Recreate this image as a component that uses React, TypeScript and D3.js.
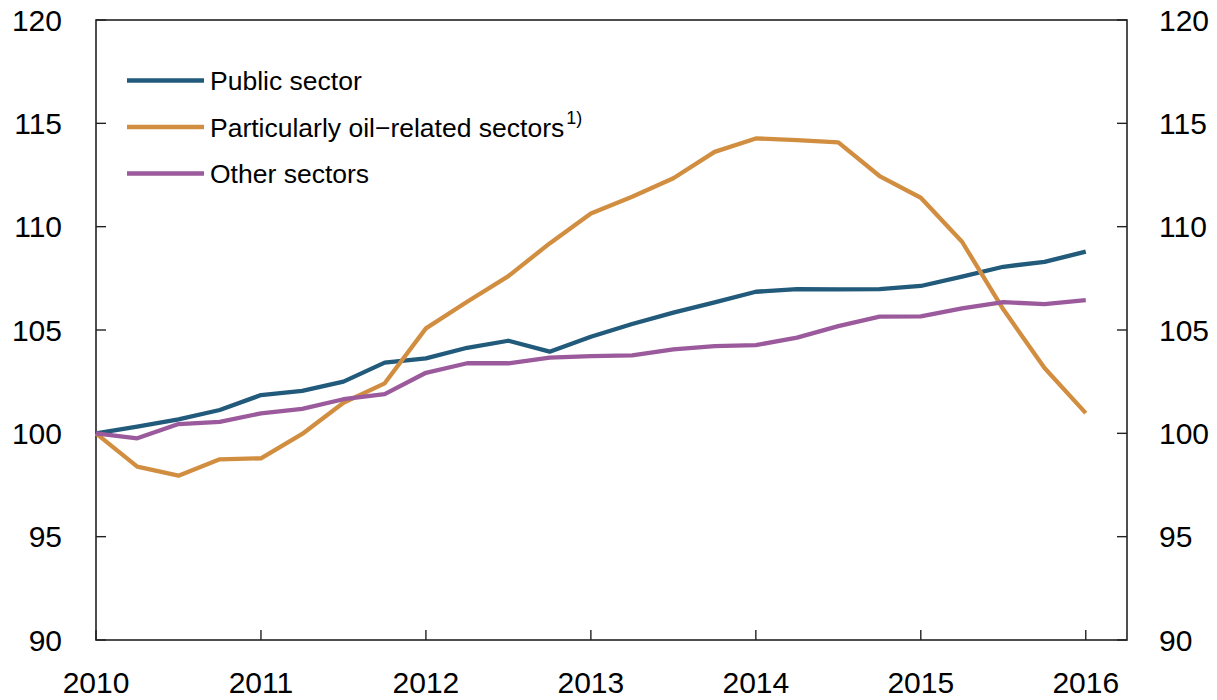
import React from "react";
import * as d3 from "d3";

const quarters: string[] = [
  "2010Q1","2010Q2","2010Q3","2010Q4",
  "2011Q1","2011Q2","2011Q3","2011Q4",
  "2012Q1","2012Q2","2012Q3","2012Q4",
  "2013Q1","2013Q2","2013Q3","2013Q4",
  "2014Q1","2014Q2","2014Q3","2014Q4",
  "2015Q1","2015Q2","2015Q3","2015Q4",
  "2016Q1",
];

const publicSector: number[] = [
  100.0, 100.32, 100.68, 101.13, 101.85, 102.05, 102.5, 103.42,
  103.63, 104.14, 104.48, 103.95, 104.67, 105.29, 105.84, 106.34,
  106.85, 106.98, 106.97, 106.98, 107.13, 107.58, 108.06, 108.3, 108.79,
];

const oilSectors: number[] = [
  100.0, 98.39, 97.95, 98.74, 98.79, 99.97, 101.48, 102.42,
  105.08, 106.37, 107.61, 109.19, 110.64, 111.45, 112.34, 113.62,
  114.27, 114.19, 114.08, 112.45, 111.4, 109.27, 106.0, 103.16, 100.98,
];

const otherSectors: number[] = [
  100.0, 99.76, 100.45, 100.55, 100.97, 101.18, 101.65, 101.9,
  102.93, 103.39, 103.39, 103.66, 103.74, 103.77, 104.06, 104.22,
  104.27, 104.63, 105.19, 105.65, 105.66, 106.05, 106.35, 106.25, 106.45,
];

const seriesNames: string[] = [
  "Public sector",
  "Particularly oil\u2212related sectors",
  "Other sectors",
];
const seriesColors: string[] = ["#215a7a", "#d28e40", "#9b5a9b"];

const yTicks: number[] = [90, 95, 100, 105, 110, 115, 120];
const xTicks: number[] = [2010, 2011, 2012, 2013, 2014, 2015, 2016];

const W = 1217;
const H = 700;
const left = 96;
const right = 1127;
const top = 20;
const bottom = 640;

function qToYear(q: string): number {
  const y = +q.slice(0, 4);
  const n = +q.slice(5);
  return y + (n - 1) * 0.25;
}

export default function App() {
  const x = d3.scaleLinear().domain([2010, 2016.25]).range([left, right]);
  const y = d3.scaleLinear().domain([90, 120]).range([bottom, top]);
  const line = d3
    .line<number>()
    .x((_, i) => x(qToYear(quarters[i])))
    .y((d) => y(d));
  const allSeries = [publicSector, oilSectors, otherSectors];
  const font = "'Liberation Sans', Arial, Helvetica, sans-serif";
  const axisColor = "#222";
  const legendRows = [80.5, 127, 173.5];

  return (
    <svg
      width={W}
      height={H}
      style={{ position: "absolute", left: 0, top: 0, background: "#fff" }}
      fontFamily={font}
    >
      <rect x={0} y={0} width={W} height={H} fill="#fff" />
      {/* frame */}
      <rect
        x={left}
        y={top}
        width={right - left}
        height={bottom - top}
        fill="none"
        stroke={axisColor}
        strokeWidth={1.6}
      />
      {/* y ticks */}
      {yTicks.map((t) => (
        <g key={"yt" + t}>
          <line x1={left} x2={left + 10} y1={y(t)} y2={y(t)} stroke={axisColor} strokeWidth={1.4} />
          <line x1={right - 10} x2={right} y1={y(t)} y2={y(t)} stroke={axisColor} strokeWidth={1.4} />
          <text x={62} y={y(t)} dy="0.36em" textAnchor="end" fontSize={30} fill="#000">
            {t}
          </text>
          <text x={1159} y={y(t)} dy="0.36em" textAnchor="start" fontSize={30} fill="#000">
            {t}
          </text>
        </g>
      ))}
      {/* x ticks */}
      {xTicks.map((t) => (
        <g key={"xt" + t}>
          <line x1={x(t)} x2={x(t)} y1={bottom} y2={bottom - 10} stroke={axisColor} strokeWidth={1.4} />
          <text x={x(t)} y={693} textAnchor="middle" fontSize={30} fill="#000">
            {t}
          </text>
        </g>
      ))}
      {/* series */}
      {allSeries.map((s, i) => (
        <path
          key={"s" + i}
          d={line(s) || ""}
          fill="none"
          stroke={seriesColors[i]}
          strokeWidth={4.3}
          strokeLinejoin="round"
        />
      ))}
      {/* legend */}
      {seriesNames.map((name, i) => (
        <g key={"lg" + i}>
          <line
            x1={127}
            x2={204}
            y1={legendRows[i]}
            y2={legendRows[i]}
            stroke={seriesColors[i]}
            strokeWidth={4.3}
          />
          <text x={210} y={legendRows[i]} dy="0.36em" fontSize={26.5} fill="#000">
            {name}
            {i === 1 ? (
              <tspan fontSize={18} dy="-0.7em" dx="2">
                1)
              </tspan>
            ) : null}
          </text>
        </g>
      ))}
    </svg>
  );
}
